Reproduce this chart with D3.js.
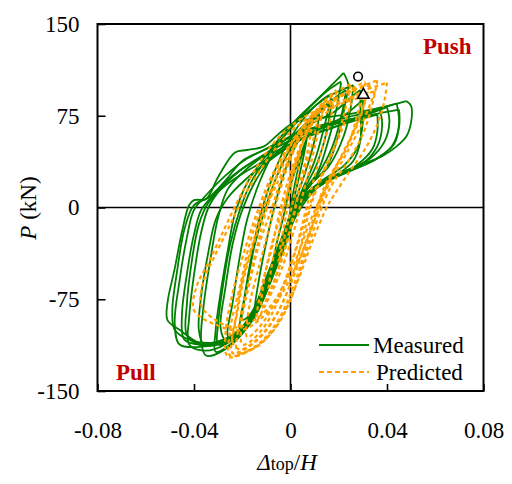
<!DOCTYPE html>
<html>
<head>
<meta charset="utf-8">
<script src="https://cdn.jsdelivr.net/npm/d3@7"></script>
<style>
  body { margin: 0; background: #fff; }
  svg { display: block; }
  svg text { font-family: "Liberation Serif", "Times New Roman", serif; }
</style>
</head>
<body>
<svg width="512" height="484"></svg>
<script>
// ticks
var xTicks = [-0.08, -0.04, 0, 0.04, 0.08];
var xTickLabels = ["-0.08", "-0.04", "0", "0.04", "0.08"];
var yTicks = [-150, -75, 0, 75, 150];
var yTickLabels = ["-150", "-75", "0", "75", "150"];

// measured cycles [drift, P(kN)]
var meas1 = [[0.000,0],[0.003,30],[0.006,52],[0.007,58],[0.005,38],[0.002,12],[-0.002,-18],[-0.006,-45],[-0.008,-55],[-0.006,-32],[-0.003,-8],[0.000,18],[0.004,42],[0.007,58]];
var meas2 = [[0.012,76],[0.010,55],[0.006,28],[0.002,6],[-0.003,-22],[-0.009,-52],[-0.014,-78],[-0.015,-84],[-0.013,-58],[-0.010,-28],[-0.007,-2],[-0.003,26],[0.002,50],[0.007,66],[0.012,77]];
var meas3 = [[0.017,92],[0.014,66],[0.010,38],[0.005,15],[0.000,-8],[-0.007,-45],[-0.013,-80],[-0.019,-97],[-0.021,-100],[-0.019,-72],[-0.016,-38],[-0.013,-10],[-0.008,22],[-0.002,50],[0.006,74],[0.013,88],[0.017,93]];
var meas4 = [[0.017,86],[0.015,62],[0.011,36],[0.006,16],[0.001,-4],[-0.006,-40],[-0.012,-74],[-0.018,-90],[-0.020,-92],[-0.018,-64],[-0.015,-32],[-0.011,-4],[-0.006,24],[0.000,48],[0.008,70],[0.017,86]];
var meas5 = [[0.021,102],[0.019,80],[0.015,50],[0.011,28],[0.005,12],[0.000,-10],[-0.008,-55],[-0.016,-92],[-0.024,-108],[-0.026,-105],[-0.024,-78],[-0.021,-40],[-0.018,-10],[-0.013,20],[-0.007,45],[0.000,65],[0.008,82],[0.015,95],[0.021,103]];
var meas6 = [[0.022,110],[0.024,100],[0.023,88],[0.020,60],[0.015,33],[0.008,18],[0.002,0],[-0.006,-45],[-0.015,-90],[-0.025,-112],[-0.031,-118],[-0.031,-100],[-0.029,-70],[-0.026,-35],[-0.023,-5],[-0.018,20],[-0.011,40],[-0.004,58],[0.004,75],[0.013,92],[0.019,104],[0.022,110]];
var meas7 = [[0.026,100],[0.025,82],[0.022,58],[0.016,34],[0.009,20],[0.003,2],[-0.005,-42],[-0.014,-86],[-0.024,-108],[-0.030,-112],[-0.030,-95],[-0.028,-64],[-0.025,-30],[-0.021,-2],[-0.016,22],[-0.009,42],[-0.002,60],[0.006,76],[0.015,90],[0.026,100]];
var meas8 = [[0.029,96],[0.029,80],[0.029,55],[0.026,38],[0.018,25],[0.008,12],[0.002,-5],[-0.008,-55],[-0.018,-98],[-0.028,-117],[-0.035,-121],[-0.037,-110],[-0.036,-80],[-0.033,-40],[-0.030,-8],[-0.026,15],[-0.019,30],[-0.010,44],[0.000,58],[0.008,68],[0.018,78],[0.025,90],[0.029,96]];
var meas9 = [[0.037,80],[0.038,68],[0.036,50],[0.030,36],[0.020,26],[0.010,15],[0.003,0],[-0.006,-45],[-0.016,-92],[-0.027,-112],[-0.036,-117],[-0.042,-112],[-0.042,-90],[-0.040,-55],[-0.037,-20],[-0.034,0],[-0.029,15],[-0.021,30],[-0.012,42],[-0.003,52],[0.006,60],[0.018,68],[0.030,75],[0.037,80]];
var meas10 = [[0.040,82],[0.041,70],[0.039,54],[0.033,40],[0.022,29],[0.012,18],[0.004,2],[-0.005,-40],[-0.015,-88],[-0.026,-108],[-0.037,-112],[-0.044,-108],[-0.045,-88],[-0.043,-55],[-0.040,-22],[-0.037,-2],[-0.032,10],[-0.024,26],[-0.015,38],[-0.006,46],[0.004,56],[0.016,64],[0.029,74],[0.040,82]];
var meas11 = [[0.044,85],[0.045,70],[0.043,52],[0.036,40],[0.025,30],[0.014,20],[0.005,5],[-0.004,-40],[-0.015,-88],[-0.026,-108],[-0.038,-114],[-0.046,-112],[-0.048,-95],[-0.046,-60],[-0.043,-25],[-0.040,-2],[-0.035,10],[-0.027,26],[-0.018,40],[-0.008,50],[0.002,60],[0.014,68],[0.026,75],[0.036,80],[0.044,85]];
var meas12 = [[0.048,87],[0.050,83],[0.050,70],[0.048,58],[0.044,50],[0.038,42],[0.028,34],[0.016,24],[0.006,10],[-0.003,-30],[-0.013,-80],[-0.024,-105],[-0.036,-112],[-0.046,-100],[-0.051,-92],[-0.051,-78],[-0.048,-50],[-0.045,-20],[-0.042,2],[-0.040,6],[-0.035,7],[-0.030,25],[-0.023,45],[-0.018,47],[-0.011,50],[-0.005,60],[0.002,70],[0.012,73],[0.026,77],[0.038,82],[0.048,87]];
var meas13 = [[0.030,88],[0.030,70],[0.028,50],[0.022,34],[0.013,22],[0.005,8],[-0.002,-20],[-0.011,-68],[-0.021,-102],[-0.030,-112],[-0.036,-112],[-0.038,-100],[-0.037,-72],[-0.034,-36],[-0.031,-10],[-0.026,8],[-0.018,24],[-0.009,38],[0.001,52],[0.010,62],[0.020,72],[0.030,88]];
var meas14 = [[0.036,76],[0.036,62],[0.034,48],[0.027,34],[0.017,24],[0.008,12],[0.000,-12],[-0.009,-58],[-0.019,-96],[-0.030,-110],[-0.038,-112],[-0.043,-104],[-0.043,-80],[-0.041,-45],[-0.038,-14],[-0.034,4],[-0.027,18],[-0.018,30],[-0.009,40],[0.001,52],[0.012,62],[0.025,70],[0.036,76]];
var meas15 = [[0.045,80],[0.045,66],[0.042,50],[0.034,38],[0.022,28],[0.011,16],[0.002,-8],[-0.008,-55],[-0.019,-96],[-0.031,-110],[-0.042,-108],[-0.048,-100],[-0.049,-84],[-0.047,-52],[-0.044,-18],[-0.040,2],[-0.034,8],[-0.027,22],[-0.020,38],[-0.012,46],[-0.004,54],[0.006,62],[0.020,70],[0.034,76],[0.045,80]];
var meas16 = [[0.023,96],[0.021,74],[0.017,48],[0.011,26],[0.004,8],[-0.003,-22],[-0.012,-70],[-0.021,-100],[-0.027,-108],[-0.029,-98],[-0.027,-66],[-0.024,-30],[-0.020,-2],[-0.015,20],[-0.009,38],[-0.002,52],[0.007,70],[0.016,86],[0.023,96]];

// predicted cycles [drift, P(kN)]
var pred1 = [[0.004,45],[0.003,25],[0.001,5],[-0.002,-20],[-0.005,-45],[-0.004,-30],[-0.002,-8],[0.000,15],[0.002,32],[0.004,45]];
var pred2 = [[0.009,70],[0.007,45],[0.004,20],[0.001,-10],[-0.004,-45],[-0.009,-70],[-0.008,-50],[-0.005,-22],[-0.002,5],[0.001,30],[0.005,52],[0.009,70]];
var pred3 = [[0.014,85],[0.011,58],[0.008,32],[0.005,10],[0.002,-15],[-0.004,-52],[-0.011,-82],[-0.014,-92],[-0.012,-65],[-0.008,-35],[-0.005,-8],[-0.001,22],[0.004,50],[0.009,72],[0.014,86]];
var pred4 = [[0.019,95],[0.016,68],[0.012,40],[0.009,18],[0.006,-5],[0.002,-35],[-0.005,-72],[-0.013,-98],[-0.018,-106],[-0.017,-80],[-0.013,-48],[-0.009,-18],[-0.005,10],[0.000,40],[0.006,65],[0.013,85],[0.019,96]];
var pred5 = [[0.025,100],[0.022,75],[0.018,48],[0.013,25],[0.009,5],[0.005,-25],[0.000,-62],[-0.008,-95],[-0.016,-112],[-0.022,-118],[-0.021,-92],[-0.017,-58],[-0.013,-25],[-0.009,5],[-0.004,35],[0.003,60],[0.011,80],[0.019,94],[0.025,101]];
var pred6 = [[0.031,102],[0.028,78],[0.024,52],[0.018,30],[0.013,8],[0.008,-22],[0.002,-60],[-0.006,-95],[-0.015,-114],[-0.025,-121],[-0.025,-100],[-0.021,-65],[-0.017,-30],[-0.012,0],[-0.006,30],[0.002,58],[0.011,78],[0.021,92],[0.031,103]];
var pred7 = [[0.036,104],[0.034,85],[0.030,60],[0.024,38],[0.017,18],[0.012,-5],[0.006,-40],[0.000,-75],[-0.009,-105],[-0.018,-118],[-0.026,-122],[-0.027,-105],[-0.024,-70],[-0.019,-35],[-0.014,-5],[-0.008,25],[0.000,52],[0.010,75],[0.022,92],[0.036,104]];
var pred8 = [[0.040,102],[0.039,88],[0.036,68],[0.031,48],[0.024,28],[0.018,10],[0.015,0],[0.009,-28],[0.003,-60],[-0.005,-95],[-0.015,-115],[-0.024,-119],[-0.023,-95],[-0.020,-60],[-0.015,-25],[-0.010,5],[-0.003,35],[0.006,62],[0.018,82],[0.030,95],[0.040,102]];
var pred9 = [[0.035,95],[0.030,70],[0.022,40],[0.015,15],[0.010,-10],[0.003,-45],[-0.007,-80],[-0.020,-100],[-0.032,-95],[-0.040,-84],[-0.039,-65],[-0.034,-45],[-0.028,-20],[-0.022,5],[-0.015,30],[-0.006,55],[0.004,72],[0.018,85],[0.035,95]];
var pred10 = [[0.033,100],[0.031,88],[0.029,74],[0.026,60],[0.022,44],[0.017,28],[0.013,12],[0.010,-6],[0.006,-30],[0.001,-58],[-0.006,-88],[-0.014,-108],[-0.021,-116],[-0.024,-110],[-0.022,-85],[-0.019,-55],[-0.015,-28],[-0.011,-5],[-0.006,18],[0.000,42],[0.003,58],[0.008,72],[0.016,86],[0.025,95],[0.033,100]];
var pred11 = [[0.027,97],[0.025,84],[0.021,62],[0.016,40],[0.011,18],[0.007,-4],[0.003,-30],[-0.003,-65],[-0.010,-95],[-0.017,-110],[-0.020,-112],[-0.020,-90],[-0.017,-62],[-0.013,-30],[-0.008,-2],[-0.004,22],[0.001,48],[0.006,66],[0.014,84],[0.027,97]];
var pred12 = [[0.012,80],[0.010,60],[0.007,38],[0.004,16],[0.001,-8],[-0.003,-38],[-0.008,-66],[-0.012,-82],[-0.011,-60],[-0.008,-32],[-0.004,-6],[0.000,22],[0.004,48],[0.008,66],[0.012,80]];
var pred13 = [[0.032,92],[0.027,66],[0.020,38],[0.014,14],[0.008,-12],[0.001,-48],[-0.009,-82],[-0.022,-98],[-0.031,-92],[-0.037,-80],[-0.036,-60],[-0.031,-38],[-0.025,-14],[-0.019,10],[-0.011,35],[-0.002,58],[0.008,74],[0.020,84],[0.032,92]];

var measuredCycles = [meas1, meas2, meas3, meas4, meas5, meas6, meas7, meas8, meas9, meas10, meas11, meas12, meas13, meas14, meas15, meas16];
var predictedCycles = [pred1, pred2, pred3, pred4, pred5, pred6, pred7, pred8, pred9, pred10, pred11, pred12, pred13];

// peak markers
var peakMeasured = [0.028, 107];
var peakPredicted = [0.0302, 92];

var svg = d3.select("svg");
var plotLeft = 97.5, plotRight = 483.5, plotTop = 24, plotBottom = 391;
var font = 23;

var x = d3.scaleLinear().domain([-0.08, 0.08]).range([plotLeft, plotRight]);
var y = d3.scaleLinear().domain([-150, 150]).range([plotBottom, plotTop]);

// zero lines
svg.append("line")
  .attr("x1", x(0)).attr("x2", x(0))
  .attr("y1", plotTop).attr("y2", plotBottom)
  .attr("stroke", "#000").attr("stroke-width", 1.6);
svg.append("line")
  .attr("x1", plotLeft).attr("x2", plotRight)
  .attr("y1", y(0)).attr("y2", y(0))
  .attr("stroke", "#000").attr("stroke-width", 1.6);

// axes, ticks pointing inwards
var xAxis = svg.append("g")
  .attr("transform", "translate(0," + plotBottom + ")")
  .call(d3.axisBottom(x).tickValues(xTicks)
    .tickFormat(function(d, i) { return xTickLabels[i]; })
    .tickSizeInner(-7).tickSizeOuter(0).tickPadding(31));
var yAxis = svg.append("g")
  .attr("transform", "translate(" + plotLeft + ",0)")
  .call(d3.axisLeft(y).tickValues(yTicks)
    .tickFormat(function(d, i) { return yTickLabels[i]; })
    .tickSizeInner(-8).tickSizeOuter(0).tickPadding(18));

[xAxis, yAxis].forEach(function(g) {
  g.attr("font-family", null).attr("font-size", null);
  g.select(".domain").remove();
  g.selectAll("line").attr("stroke", "#000").attr("stroke-width", 1.6);
  g.selectAll("text").attr("font-size", font).attr("fill", "#000");
});

var line = d3.line()
  .x(function(d) { return x(d[0]); })
  .y(function(d) { return y(d[1]); })
  .curve(d3.curveCatmullRom.alpha(0.5));

svg.append("g").selectAll("path")
  .data(measuredCycles)
  .enter().append("path")
  .attr("d", line)
  .attr("fill", "none")
  .attr("stroke", "#008000")
  .attr("stroke-width", 1.8);

svg.append("g").selectAll("path")
  .data(predictedCycles)
  .enter().append("path")
  .attr("d", line)
  .attr("fill", "none")
  .attr("stroke", "#ffa000")
  .attr("stroke-width", 2.2)
  .attr("stroke-dasharray", "4,3");

// frame
svg.append("rect")
  .attr("x", plotLeft).attr("y", plotTop)
  .attr("width", plotRight - plotLeft).attr("height", plotBottom - plotTop)
  .attr("fill", "none").attr("stroke", "#000").attr("stroke-width", 2);

// peak markers
svg.append("circle")
  .attr("cx", x(peakMeasured[0])).attr("cy", y(peakMeasured[1]))
  .attr("r", 4.3)
  .attr("fill", "#fff").attr("stroke", "#000").attr("stroke-width", 1.6);
svg.append("path")
  .attr("d", d3.symbol().type(d3.symbolTriangle).size(55))
  .attr("transform", "translate(" + x(peakPredicted[0]) + "," + y(peakPredicted[1]) + ")")
  .attr("fill", "#fff").attr("stroke", "#000").attr("stroke-width", 1.6);

// quadrant labels
svg.append("text")
  .attr("x", 423).attr("y", 54)
  .attr("font-size", font).attr("font-weight", "bold")
  .attr("fill", "#c00000")
  .text("Push");
svg.append("text")
  .attr("x", 116).attr("y", 380)
  .attr("font-size", font).attr("font-weight", "bold")
  .attr("fill", "#c00000")
  .text("Pull");

// legend
svg.append("line")
  .attr("x1", 319).attr("x2", 369).attr("y1", 345).attr("y2", 345)
  .attr("stroke", "#008000").attr("stroke-width", 1.8);
svg.append("text")
  .attr("x", 373).attr("y", 353)
  .attr("font-size", font)
  .text("Measured");
svg.append("line")
  .attr("x1", 319).attr("x2", 369).attr("y1", 372).attr("y2", 372)
  .attr("stroke", "#ffa000").attr("stroke-width", 2.2)
  .attr("stroke-dasharray", "5,3");
svg.append("text")
  .attr("x", 376).attr("y", 380)
  .attr("font-size", font)
  .text("Predicted");

// axis titles
var xt = svg.append("text")
  .attr("x", 287).attr("y", 470)
  .attr("text-anchor", "middle")
  .attr("font-size", font);
xt.append("tspan").attr("font-style", "italic").text("Δ");
xt.append("tspan").attr("font-size", 18).text("top");
xt.append("tspan").text("/");
xt.append("tspan").attr("font-style", "italic").text("H");

var yt = svg.append("text")
  .attr("transform", "translate(36,208) rotate(-90)")
  .attr("text-anchor", "middle")
  .attr("font-size", font);
yt.append("tspan").attr("font-style", "italic").text("P");
yt.append("tspan").text(" (kN)");
</script>
</body>
</html>
